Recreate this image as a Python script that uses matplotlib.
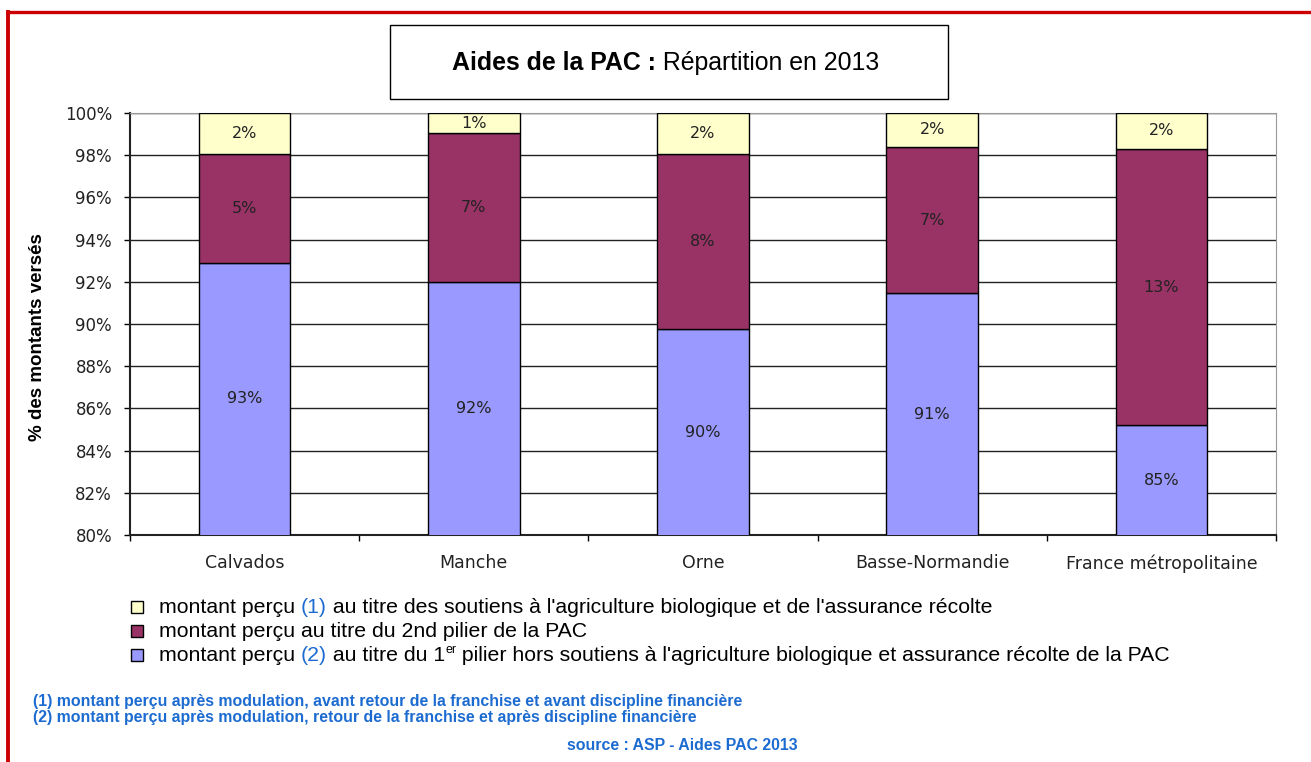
import matplotlib
matplotlib.use("Agg")
import matplotlib.pyplot as plt
from matplotlib.patches import Rectangle
from matplotlib.lines import Line2D
import numpy as np

plt.rcParams['font.family'] = ['Liberation Sans', 'DejaVu Sans']

# data (% des montants versés)
categories = ["Calvados", "Manche", "Orne", "Basse-Normandie", "France métropolitaine"]
pilier1 = [92.9, 92.0, 89.75, 91.45, 85.2]
pilier2 = [5.15, 7.05, 8.3, 6.95, 13.1]
bio_assurance = [1.95, 0.95, 1.95, 1.6, 1.7]

series = [pilier1, pilier2, bio_assurance]
colors = ["#9999FF", "#993366", "#FFFFCC"]
yticks = [80, 82, 84, 86, 88, 90, 92, 94, 96, 98, 100]

BLUE_NOTE = "#1C6BD0"
DARK = "#222222"
CHART_FONT = ["DejaVu Sans"]

W, H = 1311, 762
fig = plt.figure(figsize=(W / 100, H / 100), dpi=100)
ax = fig.add_axes([130 / W, 1 - 535 / H, 1146 / W, 422 / H])

x = np.arange(len(categories))
bottom = np.zeros(len(categories))
ymin, ymax = 80, 100
for vals, col in zip(series, colors):
    vals = np.array(vals)
    ax.bar(x, vals, 0.4, bottom=bottom, color=col, edgecolor="black", linewidth=1.0, zorder=3)
    for xi, b, v in zip(x, bottom, vals):
        lo = max(b, ymin)
        hi = min(b + v, ymax)
        ax.text(xi, (lo + hi) / 2, "%d%%" % round(v), ha="center", va="center",
                fontsize=11.5, color=DARK, family=CHART_FONT, zorder=4)
    bottom = bottom + vals

ax.set_ylim(ymin, ymax)
ax.set_xlim(-0.5, len(categories) - 0.5)
ax.set_yticks(yticks)
ax.set_yticklabels(["%d%%" % v for v in yticks], fontsize=12, color=DARK, family=CHART_FONT)
ax.yaxis.grid(True, color=DARK, linewidth=1.0, zorder=0)
ax.set_axisbelow(True)
ax.tick_params(axis="y", length=4.3, width=1, pad=8.6)

ax.set_xticks(x)
ax.set_xticklabels(categories, fontsize=12.5, color=DARK, family=CHART_FONT)
ax.set_xticks(np.arange(-0.5, len(categories)), minor=True)
ax.tick_params(axis="x", which="major", length=0, pad=14)
ax.tick_params(axis="x", which="minor", length=4.3, width=1)

ax.spines["left"].set_color(DARK)
ax.spines["bottom"].set_color(DARK)
ax.spines["left"].set_linewidth(1.5)
ax.spines["bottom"].set_linewidth(1.5)
ax.spines["top"].set_color("#999999")
ax.spines["right"].set_color("#999999")

ax.set_ylabel("% des montants versés", fontsize=13.5, fontweight="bold")
ax.yaxis.set_label_coords((46 - 130) / 1146, (535 - 337) / 422)

renderer = fig.canvas.get_renderer()


def put_pieces(x_px, base_px, pieces):
    # place text pieces one after the other on a common baseline
    for txt, col, size, weight, rise in pieces:
        t = fig.text(x_px / W, 1 - (base_px - rise) / H, txt, fontsize=size, color=col,
                     fontweight=weight, va="baseline", ha="left")
        x_px = t.get_window_extent(renderer).x1


# title box
fig.patches.append(Rectangle((390 / W, 1 - 98.5 / H), 557.5 / W, 73.5 / H, transform=fig.transFigure,
                             facecolor="white", edgecolor="black", linewidth=1.0))
put_pieces(452, 70, [("Aides de la PAC :", "black", 17.9, "bold", 0),
                     (" Répartition en 2013", "black", 17.9, "normal", 0)])

# red frame
fig.add_artist(Line2D([8 / W, 8 / W], [0, 1 - 12.3 / H], transform=fig.transFigure,
                      color="#CC0000", linewidth=2.8, solid_capstyle="projecting"))
fig.add_artist(Line2D([8 / W, 1], [1 - 12.3 / H, 1 - 12.3 / H], transform=fig.transFigure,
                      color="#CC0000", linewidth=2.4, solid_capstyle="projecting"))

# legend
LS = 15.3
legend_lines = [
    [("montant perçu ", "black", LS, "normal", 0), ("(1)", BLUE_NOTE, LS, "normal", 0),
     (" au titre des soutiens à l'agriculture biologique et de l'assurance récolte", "black", LS, "normal", 0)],
    [("montant perçu au titre du 2nd pilier de la PAC", "black", LS, "normal", 0)],
    [("montant perçu ", "black", LS, "normal", 0), ("(2)", BLUE_NOTE, LS, "normal", 0),
     (" au titre du 1", "black", LS, "normal", 0), ("er", "black", 9, "normal", 8),
     (" pilier hors soutiens à l'agriculture biologique et assurance récolte de la PAC", "black", LS, "normal", 0)],
]
legend_colors = [colors[2], colors[1], colors[0]]
legend_base = [613, 637, 661]
for parts, col, base in zip(legend_lines, legend_colors, legend_base):
    fig.patches.append(Rectangle((131 / W, 1 - (base - 0.5) / H), 11.5 / W, 11.5 / H,
                                 transform=fig.transFigure, facecolor=col, edgecolor="black",
                                 linewidth=1.0))
    put_pieces(159, base, parts)

# footnotes
fig.text(33 / W, 1 - 706 / H, "(1) montant perçu après modulation, avant retour de la franchise et avant discipline financière",
         fontsize=11.4, fontweight="bold", color=BLUE_NOTE, va="baseline")
fig.text(33 / W, 1 - 722 / H, "(2) montant perçu après modulation, retour de la franchise et après discipline financière",
         fontsize=11.4, fontweight="bold", color=BLUE_NOTE, va="baseline")
fig.text(682 / W, 1 - 750 / H, "source : ASP - Aides PAC 2013", fontsize=11.4, fontweight="bold",
         color=BLUE_NOTE, va="baseline", ha="center")

fig.savefig("out.png", dpi=100)
